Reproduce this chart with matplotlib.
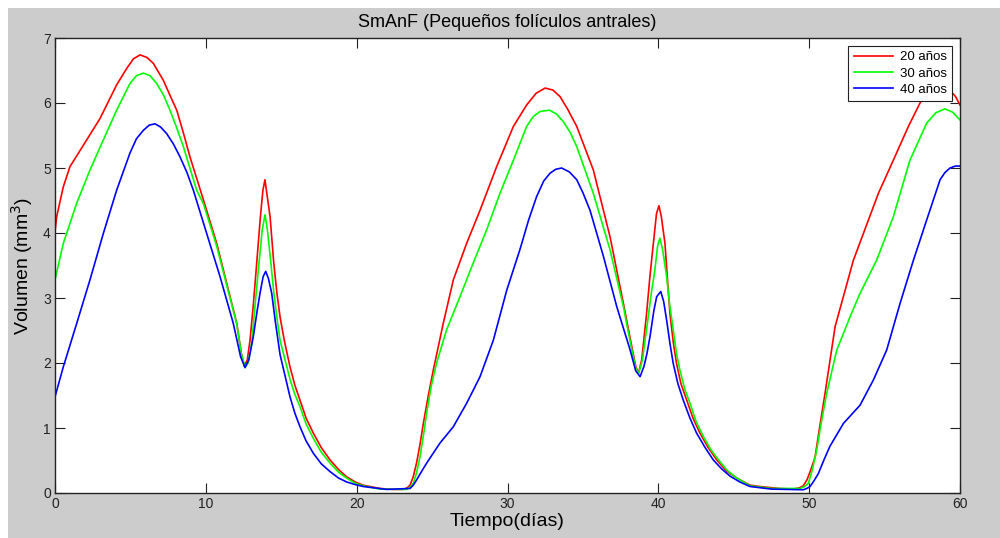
import matplotlib
matplotlib.use('Agg')
import matplotlib.pyplot as plt
from matplotlib.patches import Rectangle

plt.rcParams['font.family'] = ['Liberation Sans', 'DejaVu Sans']

# 20 anos
dias_20 = [0, 0.11, 0.55, 0.99, 1.88, 2.98, 4.09, 4.75, 5.2, 5.64, 6.1, 6.52, 7.18, 7.6, 8.07,
           8.5, 8.95, 9.84, 10.72, 11.38, 12.05, 12.35, 12.55, 12.75, 12.93, 13.15, 13.37,
           13.6, 13.78, 13.92, 14.05, 14.26, 14.5, 14.7, 14.92, 15.2, 15.58, 15.9, 16.24,
           16.65, 17.13, 17.65, 18.23, 18.8, 19.33, 19.9, 20.44, 21.55, 22.4, 23.09, 23.35,
           23.54, 23.75, 23.97, 24.2, 24.42, 24.75, 25.08, 25.74, 26.41, 27.29, 28.18, 29.28,
           30.39, 31.27, 31.9, 32.49, 33.0, 33.48, 34.0, 34.59, 35.69, 36.8, 37.68, 38.2,
           38.5, 38.68, 38.9, 39.22, 39.45, 39.67, 39.88, 40.04, 40.2, 40.44, 40.6, 40.77,
           41.0, 41.21, 41.5, 41.88, 42.3, 42.76, 43.3, 43.87, 44.5, 45.2, 46.08, 46.74,
           48.0, 48.95, 49.35, 49.61, 49.85, 50.1, 50.39, 50.7, 51.05, 51.72, 52.93, 54.59,
           55.58, 56.58, 57.35, 57.7, 58.2, 58.8, 59.4, 59.7, 60]
vol_20 = [4.02, 4.25, 4.71, 5.02, 5.35, 5.76, 6.28, 6.53, 6.68, 6.74, 6.70, 6.61, 6.35, 6.13, 5.89,
          5.55, 5.17, 4.51, 3.84, 3.23, 2.61, 2.15, 1.95, 2.05, 2.35, 2.9, 3.53,
          4.2, 4.65, 4.82, 4.6, 4.25, 3.55, 3.1, 2.71, 2.35, 1.94, 1.66, 1.43,
          1.15, 0.92, 0.7, 0.51, 0.36, 0.25, 0.17, 0.12, 0.07, 0.055, 0.055, 0.08,
          0.12, 0.25, 0.46, 0.75, 1.07, 1.5, 1.89, 2.61, 3.28, 3.84, 4.35, 5.02,
          5.64, 5.97, 6.15, 6.23, 6.2, 6.10, 5.9, 5.64, 4.97, 3.94, 2.92, 2.3,
          1.95, 1.84, 2.05, 2.76, 3.35, 3.84, 4.3, 4.42, 4.25, 3.84, 3.3, 2.76,
          2.3, 1.99, 1.68, 1.43, 1.15, 0.92, 0.7, 0.51, 0.34, 0.23, 0.12, 0.10,
          0.07, 0.06, 0.08, 0.11, 0.2, 0.35, 0.55, 1.02, 1.53, 2.56, 3.58, 4.61,
          5.12, 5.64, 6.0, 6.12, 6.22, 6.26, 6.18, 6.1, 5.97]

# 30 anos
dias_30 = [0, 0.55, 1.44, 2.32, 3.2, 4.09, 4.97, 5.4, 5.86, 6.3, 6.74, 7.2, 7.62, 8.05, 8.51,
           9.39, 9.84, 10.72, 11.38, 12.05, 12.35, 12.6, 12.8, 13.04, 13.25, 13.48, 13.74,
           13.92, 14.08, 14.26, 14.5, 14.7, 14.92, 15.58, 15.9, 16.24, 16.65, 17.13, 17.65,
           18.23, 18.8, 19.33, 19.9, 20.44, 21.55, 23.31, 23.55, 23.76, 23.98, 24.2, 24.42,
           24.64, 24.95, 25.3, 25.96, 26.85, 27.73, 28.62, 29.5, 30.39, 31.27, 31.7, 32.16,
           32.78, 33.25, 33.71, 34.15, 34.59, 35.69, 36.8, 37.68, 38.2, 38.5, 38.7, 38.95,
           39.15, 39.33, 39.55, 39.77, 39.95, 40.1, 40.28, 40.55, 40.75, 40.99, 41.2, 41.43,
           41.75, 42.1, 42.5, 42.98, 43.5, 44.09, 44.6, 45.2, 46.08, 47.5, 49.39, 49.7,
           49.95, 50.2, 50.5, 50.8, 51.16, 51.83, 52.71, 53.37, 54.47, 55.58, 56.68, 57.79,
           58.4, 59.0, 59.5, 60]
vol_30 = [3.28, 3.84, 4.46, 4.97, 5.43, 5.89, 6.3, 6.42, 6.46, 6.42, 6.3, 6.12, 5.89, 5.63, 5.33,
          4.66, 4.45, 3.8, 3.2, 2.6, 2.15, 1.93, 2.0, 2.3, 2.85, 3.43, 4.05,
          4.28, 4.05, 3.66, 3.1, 2.72, 2.35, 1.75, 1.52, 1.33, 1.06, 0.84, 0.63,
          0.46, 0.32, 0.23, 0.15, 0.11, 0.06, 0.055, 0.09, 0.15, 0.32, 0.56, 0.88,
          1.23, 1.65, 2.0, 2.51, 3.02, 3.54, 4.05, 4.61, 5.12, 5.64, 5.79, 5.87,
          5.89, 5.83, 5.71, 5.55, 5.33, 4.61, 3.74, 2.87, 2.25, 1.92, 1.84, 2.05,
          2.4, 2.71, 3.1, 3.43, 3.8, 3.92, 3.75, 3.33, 2.9, 2.51, 2.15, 1.89,
          1.6, 1.38, 1.1, 0.87, 0.66, 0.48, 0.34, 0.23, 0.11, 0.07, 0.07, 0.1,
          0.15, 0.35, 0.66, 1.08, 1.53, 2.2, 2.71, 3.07, 3.58, 4.25, 5.12, 5.69,
          5.85, 5.91, 5.86, 5.74]

# 40 anos
dias_40 = [0, 0.55, 1.44, 2.32, 3.2, 4.09, 4.97, 5.4, 5.86, 6.25, 6.63, 7.0, 7.4, 7.85, 8.29,
           8.75, 9.17, 10.06, 10.94, 11.82, 12.3, 12.6, 12.85, 13.15, 13.4, 13.59, 13.8,
           13.97, 14.15, 14.37, 14.6, 14.92, 15.58, 15.9, 16.24, 16.65, 17.13, 17.65, 18.23,
           18.8, 19.33, 19.9, 20.44, 21.99, 23.54, 23.75, 23.97, 24.3, 24.64, 25.53, 26.41,
           27.29, 28.18, 29.06, 29.95, 30.83, 31.4, 31.93, 32.4, 32.82, 33.2, 33.59, 34.1,
           34.59, 35.0, 35.47, 36.36, 37.24, 38.13, 38.5, 38.79, 39.05, 39.25, 39.45, 39.7,
           39.89, 40.16, 40.35, 40.55, 40.77, 40.99, 41.3, 41.65, 42.1, 42.54, 43.1, 43.64,
           44.2, 44.75, 45.4, 46.08, 47.5, 49.61, 49.85, 50.06, 50.3, 50.61, 51.0, 51.38,
           52.27, 53.37, 54.26, 55.14, 56.03, 56.91, 57.79, 58.68, 59.0, 59.34, 59.7, 60]
vol_40 = [1.48, 1.94, 2.61, 3.28, 3.99, 4.66, 5.23, 5.45, 5.58, 5.66, 5.68, 5.63, 5.53, 5.37, 5.17,
          4.93, 4.66, 3.99, 3.33, 2.61, 2.1, 1.93, 2.05, 2.41, 2.8, 3.07, 3.33,
          3.41, 3.3, 3.07, 2.65, 2.13, 1.48, 1.23, 1.02, 0.8, 0.61, 0.45, 0.33,
          0.23, 0.17, 0.13, 0.1, 0.055, 0.07, 0.12, 0.2, 0.33, 0.46, 0.77, 1.02,
          1.38, 1.79, 2.35, 3.12, 3.75, 4.2, 4.56, 4.8, 4.92, 4.98, 5.0, 4.94,
          4.82, 4.62, 4.35, 3.64, 2.87, 2.2, 1.88, 1.79, 1.95, 2.15, 2.41, 2.8,
          3.02, 3.1, 2.95, 2.66, 2.3, 1.99, 1.68, 1.43, 1.15, 0.92, 0.7, 0.51,
          0.37, 0.26, 0.17, 0.1, 0.06, 0.05, 0.07, 0.1, 0.18, 0.3, 0.52, 0.72,
          1.07, 1.35, 1.74, 2.2, 2.92, 3.58, 4.2, 4.82, 4.93, 5.0, 5.03, 5.03]

fig = plt.figure(figsize=(10, 5.38), dpi=100, facecolor='white')
# gray matlab-like window background
fig.patches.append(Rectangle((0.008, 0), 0.992, 1 - 8/538, transform=fig.transFigure,
                             facecolor='#cccccc', edgecolor='none', zorder=-10))

ax = fig.add_axes([0.055, 1 - 493/538, 0.905, 455/538])
ax.plot(dias_20, vol_20, color='#ff0000', lw=1.2, label='20 años')
ax.plot(dias_30, vol_30, color='#00ff00', lw=1.2, label='30 años')
ax.plot(dias_40, vol_40, color='#0000ff', lw=1.2, label='40 años')

ax.set_xlim(0, 60)
ax.set_ylim(0, 7)
ax.set_xticks(range(0, 61, 10))
ax.set_yticks(range(0, 8))
ax.tick_params(direction='in', length=7, width=0.8, top=True, right=True,
               labelsize=10, colors='#222222', pad=3)
for s in ax.spines.values():
    s.set_linewidth(1.0)
    s.set_color('#222222')

ax.set_title('SmAnF (Pequeños folículos antrales)', fontsize=13, pad=8)
ax.set_xlabel('Tiempo(días)', fontsize=14, labelpad=1)
ax.set_ylabel('Volumen (mm$^3$)', fontsize=14, labelpad=6)

leg = ax.legend(loc='upper right', fontsize=9.5, fancybox=False, framealpha=1,
                edgecolor='#222222', borderaxespad=0.6, handlelength=3.0,
                labelspacing=0.3, borderpad=0.4, handletextpad=0.5)
leg.get_frame().set_linewidth(0.8)

fig.savefig('out.png', dpi=100)
